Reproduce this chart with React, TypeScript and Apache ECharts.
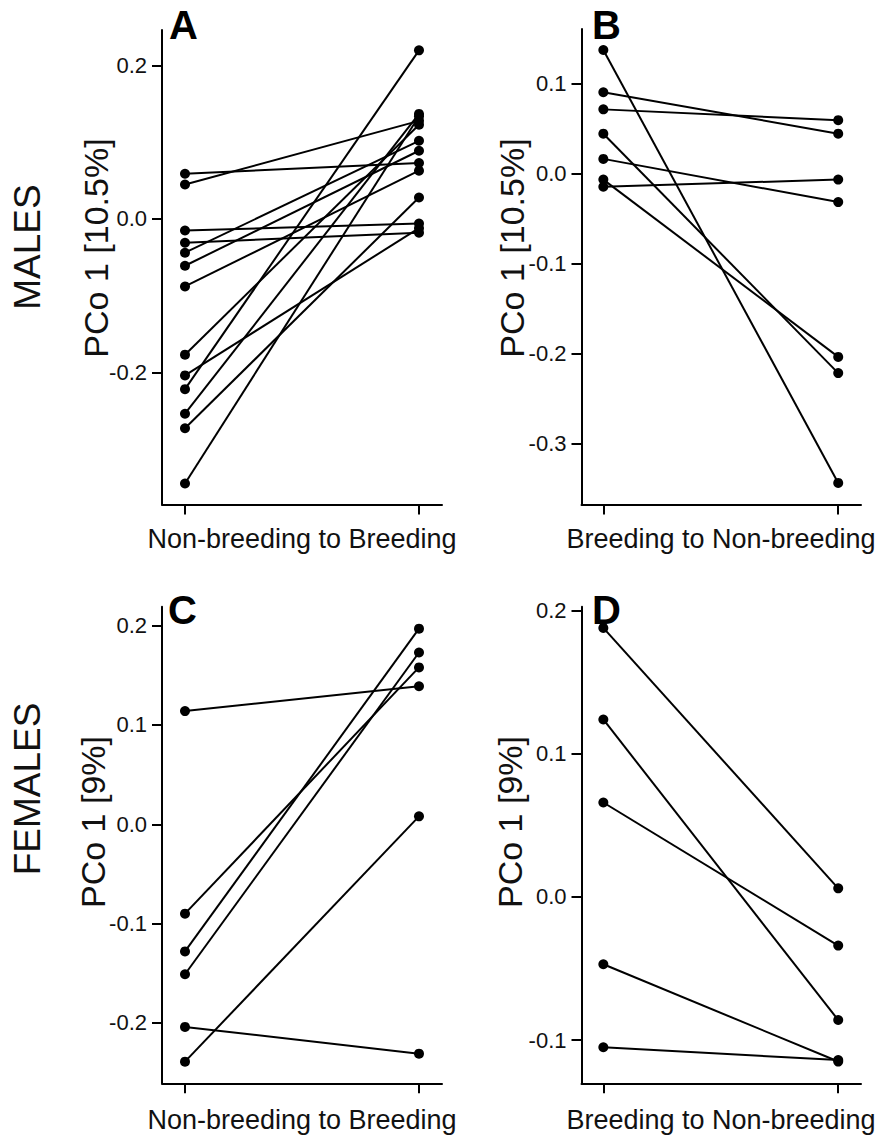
import React, { useEffect, useRef } from "react";
import * as echarts from "echarts";

// Panel A: males, non-breeding -> breeding
const malesNbStart = [0.059, 0.045, -0.015, -0.031, -0.044, -0.061, -0.088, -0.177, -0.204, -0.222, -0.254, -0.273, -0.345];
const malesNbEnd = [0.073, 0.128, -0.006, -0.018, 0.102, 0.089, 0.063, 0.123, -0.012, 0.220, 0.137, 0.028, 0.134];
// Panel B: males, breeding -> non-breeding
const malesBnStart = [0.137, 0.090, 0.071, 0.044, 0.016, -0.007, -0.015];
const malesBnEnd = [-0.344, 0.044, 0.059, -0.222, -0.032, -0.204, -0.007];
// Panel C: females, non-breeding -> breeding
const femalesNbStart = [0.114, -0.090, -0.128, -0.151, -0.204, -0.239];
const femalesNbEnd = [0.139, 0.158, 0.197, 0.173, -0.231, 0.008];
// Panel D: females, breeding -> non-breeding
const femalesBnStart = [0.188, 0.124, 0.066, -0.047, -0.105];
const femalesBnEnd = [0.006, -0.086, -0.034, -0.115, -0.114];

const ticksA = [-0.2, 0, 0.2];
const ticksB = [-0.3, -0.2, -0.1, 0, 0.1];
const ticksC = [-0.2, -0.1, 0, 0.1, 0.2];
const ticksD = [-0.1, 0, 0.1, 0.2];

const xTitles = ["Non-breeding to Breeding", "Breeding to Non-breeding", "Non-breeding to Breeding", "Breeding to Non-breeding"];
const yTitles = ["PCo 1 [10.5%]", "PCo 1 [10.5%]", "PCo 1 [9%]", "PCo 1 [9%]"];
const panelLetters = ["A", "B", "C", "D"];
const rowTitles = ["MALES", "FEMALES"];

const FONT = "'Liberation Sans', Arial, Helvetica, sans-serif";

export default function App() {
  const ref = useRef<HTMLDivElement>(null);
  useEffect(() => {
    if (!ref.current) return;
    const chart = echarts.init(ref.current, undefined, { renderer: "svg" });

    const panels = [
      { start: malesNbStart, end: malesNbEnd, ticks: ticksA, ymin: -0.3724, ymax: 0.2465, xmin: 0.9017, xmax: 2.0983, grid: { left: 162, top: 30, width: 280, height: 474.5 } },
      { start: malesBnStart, end: malesBnEnd, ticks: ticksB, ymin: -0.368, ymax: 0.1603, xmin: 0.907, xmax: 2.097, grid: { left: 581.5, top: 29, width: 279.5, height: 475.5 } },
      { start: femalesNbStart, end: femalesNbEnd, ticks: ticksC, ymin: -0.2608, ymax: 0.2191, xmin: 0.9017, xmax: 2.0983, grid: { left: 162, top: 606.7, width: 280, height: 476.6 } },
      { start: femalesBnStart, end: femalesBnEnd, ticks: ticksD, ymin: -0.1302, ymax: 0.2028, xmin: 0.907, xmax: 2.097, grid: { left: 581.5, top: 606.7, width: 279.5, height: 476.6 } },
    ];

    const axisLine = { show: true, onZero: false, lineStyle: { color: "#000", width: 2 } };
    const series: any[] = [];
    panels.forEach((p, pi) => {
      p.start.forEach((s, i) => {
        series.push({
          type: "line",
          xAxisIndex: pi,
          yAxisIndex: pi,
          data: [[1, s], [2, p.end[i]]],
          symbol: "circle",
          symbolSize: 10,
          showSymbol: true,
          silent: true,
          lineStyle: { color: "#000", width: 2 },
          itemStyle: { color: "#000" },
        });
      });
    });

    const graphics: any[] = [];
    const letterPos = [[169, 25], [592, 25], [168, 610], [592, 610]];
    const xTitlePos = [[302, 539], [721, 539], [302, 1120], [721, 1120]];
    const yTitlePos = [[96, 248], [512, 248], [93, 822], [510, 822]];
    panelLetters.forEach((t, i) => {
      graphics.push({ type: "text", x: letterPos[i][0], y: letterPos[i][1], style: { text: t, font: `bold 40px ${FONT}`, fill: "#000", align: "left", verticalAlign: "middle" } });
      graphics.push({ type: "text", x: xTitlePos[i][0], y: xTitlePos[i][1], style: { text: xTitles[i], font: `27px ${FONT}`, fill: "#111", align: "center", verticalAlign: "middle" } });
      graphics.push({ type: "text", x: yTitlePos[i][0], y: yTitlePos[i][1], rotation: Math.PI / 2, style: { text: yTitles[i], font: `34px ${FONT}`, fill: "#111", align: "center", verticalAlign: "middle" } });
    });
    graphics.push({ type: "text", x: 27, y: 247, rotation: Math.PI / 2, style: { text: rowTitles[0], font: `300 37px ${FONT}`, fill: "#111", align: "center", verticalAlign: "middle" } });
    graphics.push({ type: "text", x: 27, y: 789, rotation: Math.PI / 2, style: { text: rowTitles[1], font: `300 37px ${FONT}`, fill: "#111", align: "center", verticalAlign: "middle" } });

    chart.setOption({
      animation: false,
      backgroundColor: "#fff",
      grid: panels.map((p) => ({ ...p.grid, containLabel: false })),
      xAxis: panels.map((p, i) => ({
        type: "value",
        gridIndex: i,
        min: p.xmin,
        max: p.xmax,
        axisLine,
        splitLine: { show: false },
        axisTick: { show: true, length: 10, customValues: [1, 2], lineStyle: { color: "#000", width: 2 } },
        axisLabel: { show: false, customValues: [1, 2] },
      })),
      yAxis: panels.map((p, i) => ({
        type: "value",
        gridIndex: i,
        min: p.ymin,
        max: p.ymax,
        axisLine,
        splitLine: { show: false },
        axisTick: { show: true, length: 10, customValues: p.ticks, lineStyle: { color: "#000", width: 2 } },
        axisLabel: {
          show: true,
          customValues: p.ticks,
          margin: 15,
          fontSize: 22,
          fontFamily: FONT,
          color: "#111",
          formatter: (v: number) => v.toFixed(1),
        },
      })),
      series,
      graphic: graphics,
    });

    return () => chart.dispose();
  }, []);

  return <div ref={ref} style={{ position: "absolute", left: 0, top: 0, width: 880, height: 1137 }} />;
}
